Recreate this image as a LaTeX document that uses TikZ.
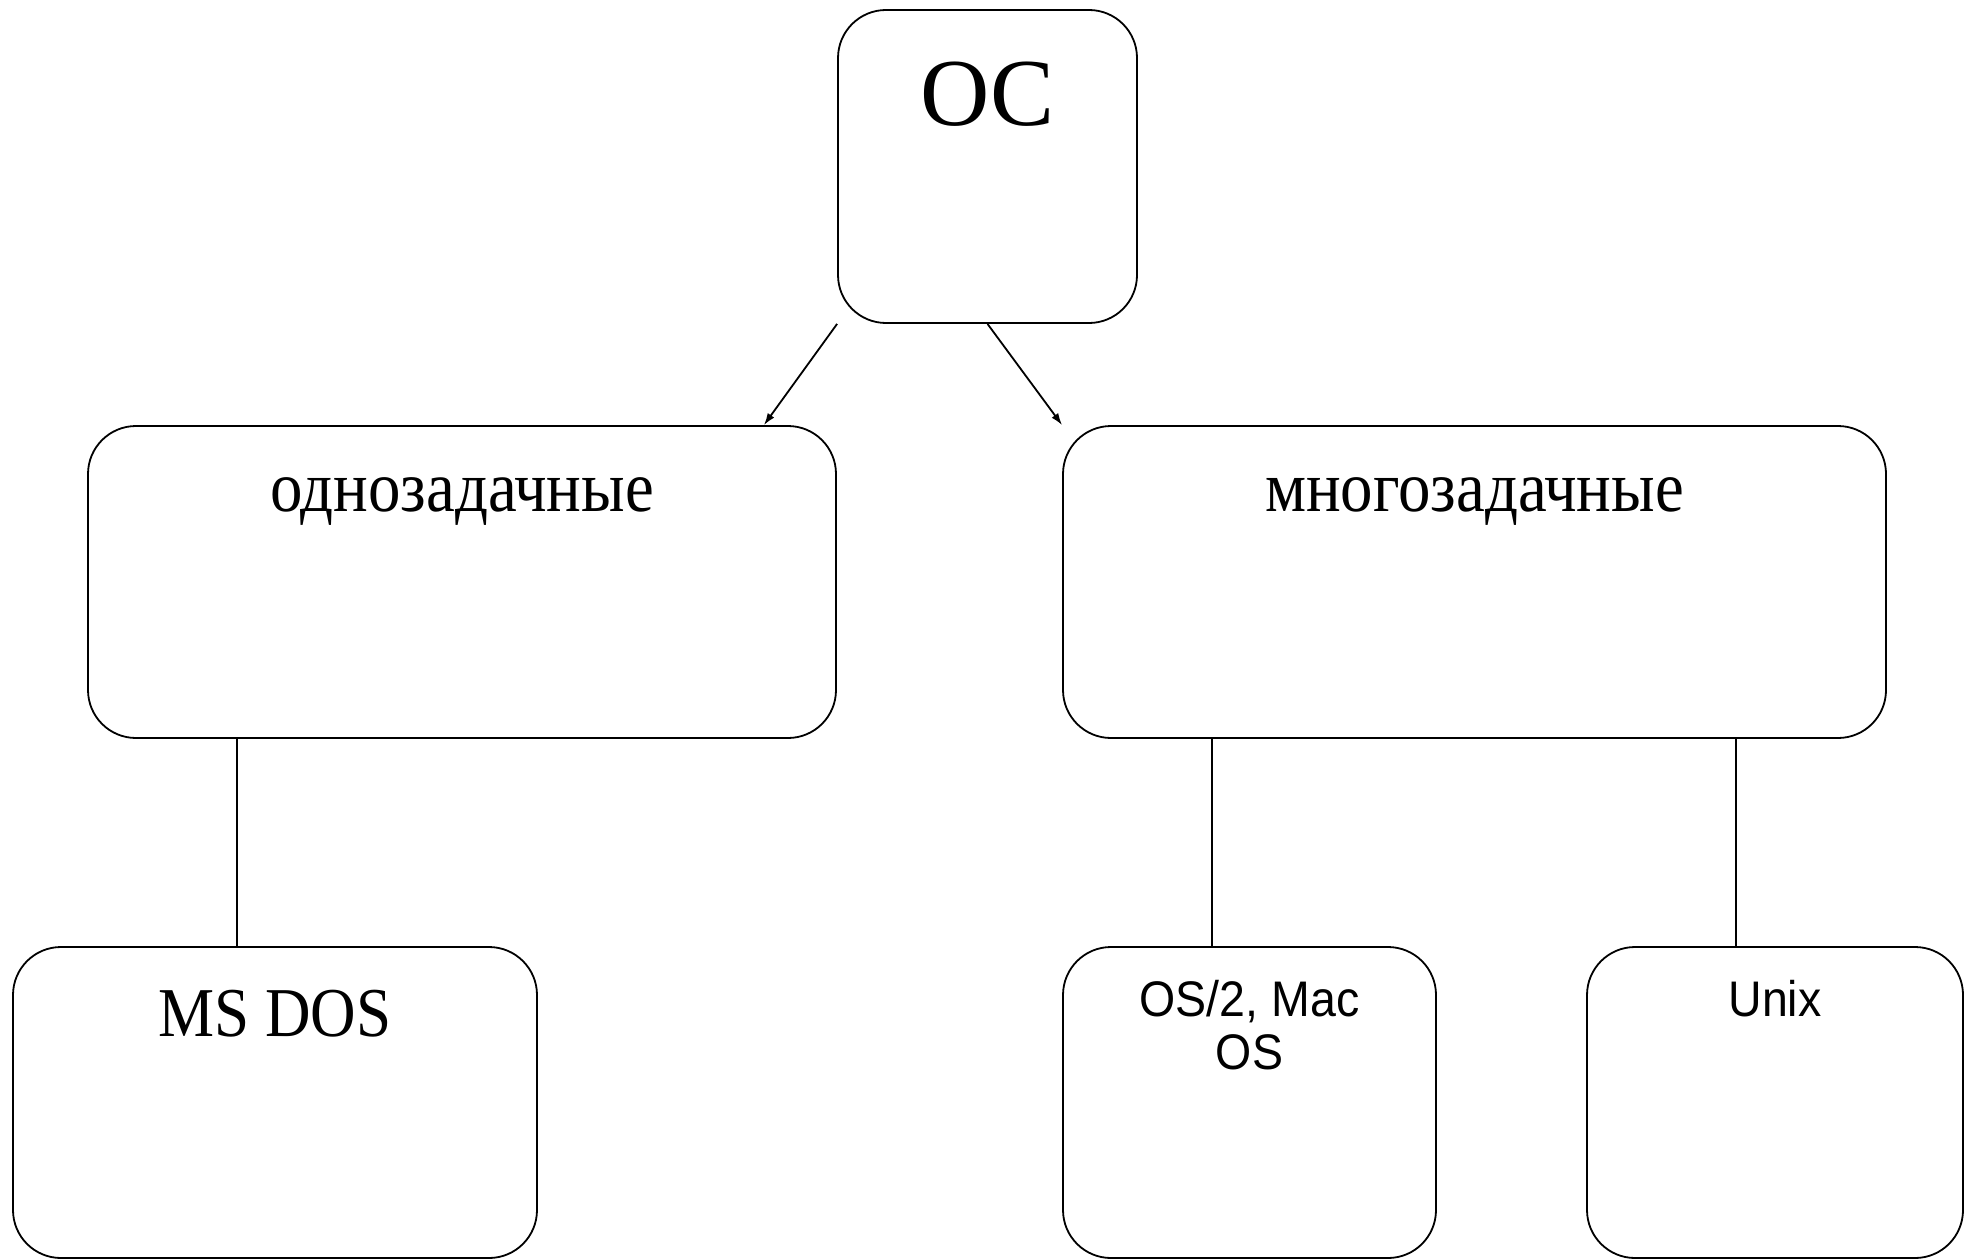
\documentclass[tikz,border=0pt]{standalone}
\usepackage{fontspec}
\setmainfont{Liberation Serif}[FakeStretch=0.9]
\newfontfamily\ocfont{Liberation Serif}
\newfontfamily\osfont{Liberation Sans}[FakeStretch=0.93]
\usetikzlibrary{calc,arrows.meta}
\begin{document}
\begin{tikzpicture}[x=1pt, y=-1pt,
		osbox/.style={draw, line width=1.8pt, rounded corners=48pt, inner sep=0pt},
		oslink/.style={line width=1.8pt},
		osarrow/.style={line width=1.8pt, -{Latex[length=12pt,width=8pt]}}]
			\useasboundingbox (0,0) rectangle (1977,1260);
			\node[osbox, minimum width=299pt, text height=116pt, text depth=197pt, font=\ocfont\fontsize{96}{115}\selectfont] (oc) at (987.5,166.5) {ОС};
			\node[osbox, minimum width=748pt, text height=85pt, text depth=227pt, font=\fontsize{72}{86}\selectfont] (single) at (462,582) {однозадачные};
			\node[osbox, minimum width=823pt, text height=85pt, text depth=227pt, font=\fontsize{72}{86}\selectfont] (multi) at (1474.5,582) {многозадачные};
			\node[osbox, minimum width=524pt, text height=89pt, text depth=222pt, font=\fontsize{70}{84}\selectfont] (msdos) at (275,1102.5) {MS DOS};
			\node[osbox, minimum width=373pt, text height=122pt, text depth=189pt, align=center, font=\osfont\fontsize{50}{53}\selectfont] (os2) at (1249.5,1102.5) {OS/2, Mac\\OS};
			\node[osbox, minimum width=376pt, text height=69pt, text depth=242pt, font=\osfont\fontsize{50}{53}\selectfont] (unix) at (1775,1102.5) {Unix};
			\draw[osarrow] (oc.south west) -- ($(single.north east)+(-73,0)$);
			\draw[osarrow] (oc.south) -- (multi.north west);
			\draw[oslink] ($(single.south west)+(150,0)$) coordinate (s1) -- (s1 |- msdos.north);
			\draw[oslink] ($(multi.south west)+(150,0)$) coordinate (m1) -- (m1 |- os2.north);
			\draw[oslink] ($(unix.north west)+(150,0)$) coordinate (u1) -- (u1 |- multi.south);
		\end{tikzpicture}
\end{document}
